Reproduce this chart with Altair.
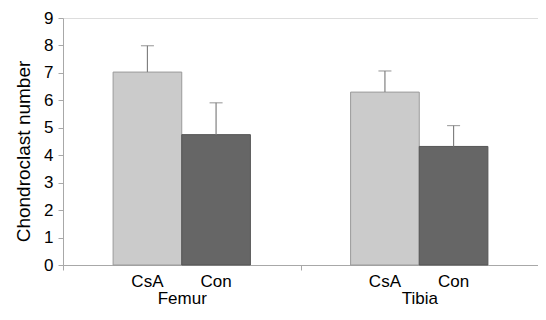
import altair as alt
import pandas as pd

groups = ["Femur", "Femur", "Tibia", "Tibia"]
treatments = ["CsA", "Con", "CsA", "Con"]
means = [7.03, 4.75, 6.30, 4.32]
errors = [0.96, 1.16, 0.77, 0.76]
y_ticks = [0, 1, 2, 3, 4, 5, 6, 7, 8, 9]

df = pd.DataFrame({"group": groups, "treatment": treatments, "mean": means, "err": errors})
df["upper"] = df["mean"] + df["err"]

W, H = 475, 247
FONT = "Liberation Sans"
AX = "#a8a8a8"

x_axis = alt.Axis(tickBand="extent", labelAngle=0, labelFontSize=17, labelFont=FONT,
                  labelPadding=20, tickSize=5, domainColor=AX, tickColor=AX,
                  labelColor="#000000", grid=False)
x = alt.X("group:N", title=None, scale=alt.Scale(paddingInner=0, paddingOuter=0), axis=x_axis)
xoff = alt.XOffset("treatment:N", sort=["CsA", "Con"],
                   scale=alt.Scale(paddingInner=0, paddingOuter=0.73))
y_axis = alt.Axis(values=y_ticks, title="Chondroclast number", grid=False,
                  labelFontSize=17, labelFont=FONT, labelColor="#000000",
                  titleFontSize=19, titleFont=FONT, titleFontWeight="normal",
                  titleColor="#000000", titlePadding=10, titleY=133,
                  tickSize=5, labelPadding=5, domainColor=AX, tickColor=AX)
yscale = alt.Scale(domain=[0, 9], nice=False, zero=True)

base = alt.Chart(df)

bars = base.mark_bar(strokeWidth=1).encode(
    x=x, xOffset=xoff,
    y=alt.Y("mean:Q", scale=yscale, axis=y_axis),
    fill=alt.Fill("treatment:N", scale=alt.Scale(domain=["CsA", "Con"], range=["#cbcbcb", "#666666"]), legend=None),
    stroke=alt.Stroke("treatment:N", scale=alt.Scale(domain=["CsA", "Con"], range=["#9a9a9a", "#555555"]), legend=None),
)

err = base.mark_rule(color="#808080", strokeWidth=1.2).encode(
    x=x, xOffset=xoff,
    y=alt.Y("mean:Q", scale=yscale, axis=y_axis),
    y2="upper:Q",
)

caps = base.mark_tick(color="#808080", size=13, thickness=1.2).encode(
    x=x, xOffset=xoff,
    y=alt.Y("upper:Q", scale=yscale, axis=y_axis),
)

labels = base.mark_text(fontSize=17, font=FONT, baseline="middle", color="#000000").encode(
    x=x, xOffset=xoff,
    y=alt.value(H + 17),
    text="treatment:N",
)

chart = alt.layer(bars, err, caps, labels).properties(
    width=W, height=H,
    autosize=alt.AutoSizeParams(type="none"),
    padding={"left": 55, "top": 10, "right": 0, "bottom": 46},
).configure_view(stroke=None).configure(background="#ffffff")

chart.save("out.html", embed_options={"renderer": "svg", "actions": False})
